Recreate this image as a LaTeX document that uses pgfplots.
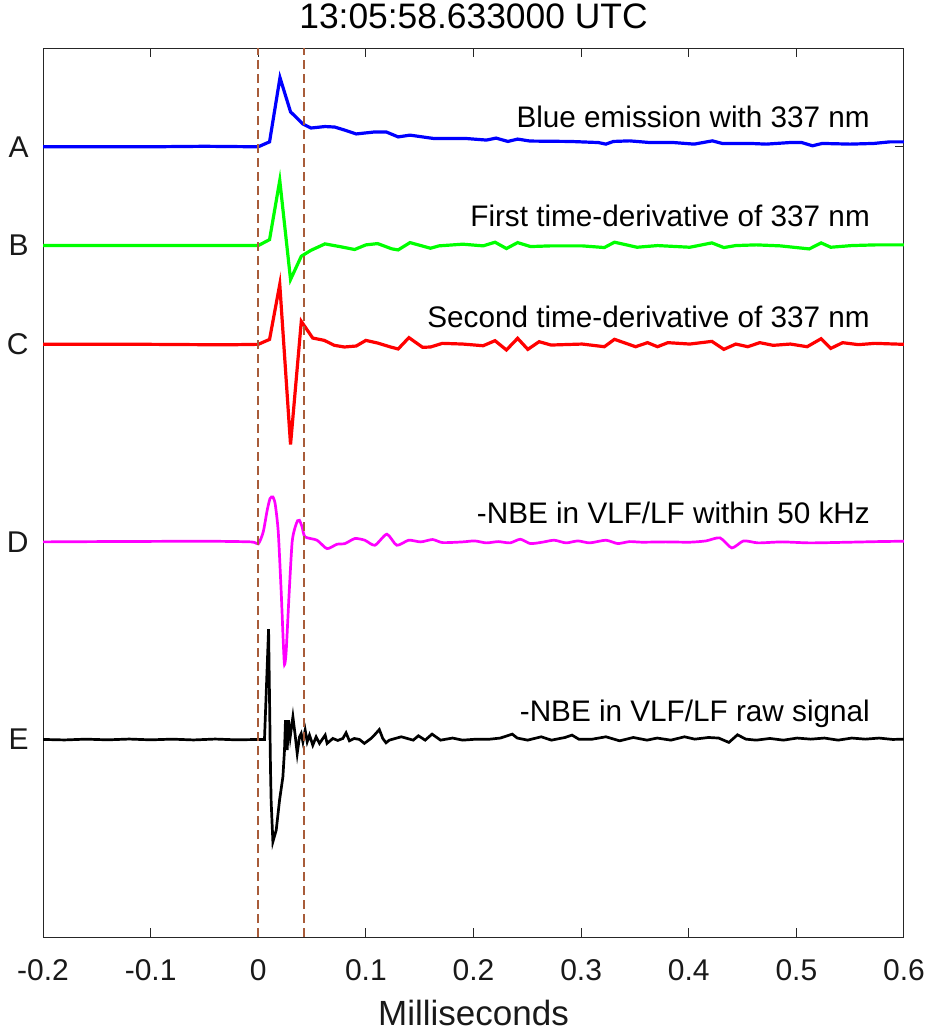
\documentclass[border=0pt]{standalone}
\usepackage{pgfplots}
\pgfplotsset{compat=1.18}
\usepackage{fontspec}
\setmainfont{Liberation Sans}
\definecolor{axgray}{RGB}{38,38,38}
\definecolor{brownd}{RGB}{168,92,58}
\definecolor{mag}{RGB}{255,0,255}
\definecolor{grn}{RGB}{0,255,0}
\definecolor{blu}{RGB}{0,0,255}
\definecolor{rd}{RGB}{255,0,0}
\begin{document}
\begin{tikzpicture}
\path[use as bounding box] (-21.5bp,-48bp) rectangle (443bp,468.5bp);
\begin{axis}[
  at={(0,0)}, anchor=south west,
  scale only axis, width=430.5bp, height=444.5bp,
  xmin=-0.2, xmax=0.6, ymin=-8, ymax=1,
  axis line style={axgray, line width=0.5bp},
  tick style={axgray, line width=0.5bp},
  tick align=inside, major tick length=4.5bp,
  xtick={-0.2,-0.1,0,0.1,0.2,0.3,0.4,0.5,0.6},
  xticklabels={-0.2,-0.1,0,0.1,0.2,0.3,0.4,0.5,0.6},
  ytick={-6,-4,-2,-1,0},
  yticklabels={E,D,C,B,A},
  xtick pos=both, ytick pos=both,
  xticklabel style={anchor=base, yshift=-21.5bp, font=\fontsize{15bp}{18bp}\selectfont, text=black!90},
  yticklabel style={anchor=east, inner sep=0pt, xshift=-7bp, font=\fontsize{15bp}{18bp}\selectfont, text=black!90},
  xlabel={Milliseconds},
  xlabel style={at={(axis description cs:0.5,0)}, anchor=base, yshift=-44bp, font=\fontsize{17.5bp}{20bp}\selectfont, text=black!90},
  title={13:05:58.633000 UTC},
  title style={at={(axis description cs:0.5,1)}, anchor=base, yshift=4bp, font=\fontsize{17.7bp}{20bp}\selectfont},
  clip=true,
]
% A: blue emission
\addplot[blu, line width=1.6bp] coordinates {
(-0.2,0) (-0.1,0) (-0.05,0.005) (0,0) (0.0105,0.05) (0.0202,0.70) (0.030,0.354) (0.0416,0.23) (0.049,0.19) (0.062,0.205) (0.071,0.20) (0.080,0.17) (0.091,0.13) (0.108,0.15) (0.119,0.15) (0.130,0.10) (0.141,0.118) (0.163,0.084) (0.193,0.084) (0.212,0.068) (0.221,0.088) (0.232,0.054) (0.241,0.078) (0.2525,0.058) (0.290,0.054) (0.316,0.043) (0.323,0.027) (0.330,0.054) (0.345,0.06) (0.364,0.043) (0.386,0.043) (0.405,0.027) (0.422,0.06) (0.431,0.034) (0.457,0.034) (0.472,0.027) (0.494,0.043) (0.505,0.043) (0.515,0.01) (0.524,0.034) (0.550,0.027) (0.572,0.034) (0.587,0.05) (0.6,0.05)
};
% B: first derivative
\addplot[grn, line width=1.6bp] coordinates {
(-0.2,-1) (-0.1,-1) (0,-1) (0.0105,-0.94) (0.020,-0.34) (0.030,-1.344) (0.040,-1.108) (0.049,-1.048) (0.062,-0.983) (0.077,-1.013) (0.0895,-1.04) (0.100,-0.993) (0.111,-0.98) (0.124,-1.033) (0.130,-1.044) (0.141,-0.97) (0.160,-1.027) (0.168,-1.003) (0.190,-0.986) (0.209,-1.003) (0.220,-0.966) (0.2306,-1.03) (0.241,-0.97) (0.253,-1.01) (0.272,-1.003) (0.301,-1.003) (0.3216,-1.02) (0.331,-0.966) (0.352,-1.017) (0.371,-1.0) (0.401,-1.017) (0.4215,-0.973) (0.4326,-1.02) (0.4437,-1.0) (0.4627,-0.993) (0.485,-1.003) (0.512,-1.034) (0.523,-0.973) (0.532,-1.017) (0.5515,-1.0) (0.574,-0.993) (0.6,-0.993)
};
% C: second derivative
\addplot[rd, line width=1.6bp] coordinates {
(-0.2,-2) (-0.1,-2) (-0.03,-2.005) (0,-2) (0.0105,-1.95) (0.020,-1.393) (0.030,-3.015) (0.040,-1.767) (0.0506,-1.936) (0.0614,-1.96) (0.0707,-2.01) (0.080,-2.027) (0.091,-2.017) (0.100,-1.96) (0.111,-1.987) (0.123,-2.027) (0.130,-2.047) (0.140,-1.932) (0.1527,-2.03) (0.160,-2.027) (0.1711,-1.99) (0.190,-1.997) (0.209,-2.014) (0.220,-1.963) (0.2306,-2.057) (0.241,-1.939) (0.2505,-2.051) (0.261,-1.973) (0.272,-2.007) (0.301,-1.997) (0.3216,-2.024) (0.331,-1.949) (0.3506,-2.024) (0.3617,-1.983) (0.371,-2.024) (0.3806,-1.983) (0.401,-1.997) (0.4215,-1.97) (0.4326,-2.051) (0.4437,-1.997) (0.4548,-2.024) (0.466,-1.983) (0.4785,-2.01) (0.4944,-1.997) (0.510,-2.024) (0.523,-1.943) (0.532,-2.041) (0.543,-1.983) (0.5577,-2.003) (0.573,-1.99) (0.6,-2.0)
};
% D: NBE filtered
\addplot[mag, line width=1.35bp, smooth, tension=0.4] coordinates {
(-0.2,-4.0) (-0.15,-3.997) (-0.1,-3.995) (-0.05,-3.993) (-0.0065,-4.0) (0,-4.02) (0.0046,-3.9) (0.0083,-3.68) (0.011,-3.56) (0.0136,-3.545) (0.0158,-3.62) (0.0186,-3.9) (0.0213,-4.5) (0.0232,-5.0) (0.0244,-5.242) (0.026,-5.1) (0.0288,-4.5) (0.0315,-4.0) (0.0343,-3.85) (0.0366,-3.785) (0.0383,-3.781) (0.0408,-3.85) (0.0435,-3.949) (0.0546,-3.983) (0.0639,-4.068) (0.0731,-4.024) (0.0806,-4.017) (0.0898,-3.966) (0.099,-3.983) (0.1084,-4.034) (0.1195,-3.922) (0.1287,-4.034) (0.1398,-3.983) (0.151,-4.0) (0.162,-3.976) (0.1713,-4.007) (0.19,-4.0) (0.201,-3.99) (0.212,-4.01) (0.223,-3.997) (0.234,-4.01) (0.2435,-3.973) (0.2528,-4.017) (0.264,-4.003) (0.275,-3.983) (0.286,-4.01) (0.297,-3.99) (0.308,-4.01) (0.323,-3.983) (0.334,-4.017) (0.345,-3.997) (0.3565,-4.003) (0.3787,-4.0) (0.401,-4.003) (0.416,-3.99) (0.429,-3.959) (0.440,-4.061) (0.451,-3.99) (0.4645,-4.01) (0.4867,-4.0) (0.5126,-4.01) (0.5497,-4.003) (0.5756,-3.997) (0.6,-3.993)
};
% E: NBE raw
\addplot[black, line width=1.35bp] coordinates {
(-0.2,-6.0) (-0.18,-6.005) (-0.16,-5.997) (-0.14,-6.004) (-0.12,-5.996) (-0.1,-6.004) (-0.08,-5.997) (-0.06,-6.005) (-0.04,-5.996) (-0.02,-6.004) (0,-6.0) (0.0058,-6.0) (0.0096,-4.884) (0.0114,-6.31) (0.012,-6.63) (0.0136,-7.036) (0.0167,-6.918) (0.0198,-6.614) (0.0229,-6.379) (0.0244,-6.108) (0.0253,-5.805) (0.0269,-6.108) (0.0281,-5.805) (0.0297,-5.974) (0.0322,-5.771) (0.0343,-5.956) (0.0362,-6.142) (0.0383,-5.974) (0.0399,-5.939) (0.0415,-6.024) (0.0436,-5.906) (0.0455,-6.024) (0.0476,-5.956) (0.0507,-6.058) (0.0538,-5.974) (0.0569,-6.04) (0.0622,-5.956) (0.064,-6.04) (0.0693,-5.99) (0.0739,-6.01) (0.0786,-5.99) (0.0816,-5.933) (0.0847,-6.014) (0.0893,-5.99) (0.094,-6.0) (0.0986,-6.04) (0.1048,-5.99) (0.1079,-5.956) (0.1125,-5.9) (0.1157,-5.99) (0.1187,-6.034) (0.1218,-6.007) (0.1329,-5.973) (0.144,-6.007) (0.1488,-5.963) (0.1551,-6.007) (0.1615,-5.946) (0.1694,-6.007) (0.1805,-5.986) (0.19,-6.007) (0.2027,-5.997) (0.2154,-5.997) (0.2249,-5.986) (0.236,-5.946) (0.2407,-5.986) (0.2503,-6.007) (0.263,-5.973) (0.2724,-6.007) (0.2851,-5.98) (0.2915,-5.956) (0.2978,-5.997) (0.3105,-5.997) (0.3231,-5.973) (0.3358,-6.014) (0.3485,-5.98) (0.3612,-6.007) (0.3707,-5.986) (0.3834,-6.007) (0.3961,-5.973) (0.4056,-5.997) (0.4183,-5.98) (0.4278,-5.986) (0.4373,-6.03) (0.4453,-5.953) (0.4531,-5.997) (0.4627,-6.007) (0.4754,-5.99) (0.488,-6.007) (0.5007,-5.986) (0.5134,-5.997) (0.5261,-5.986) (0.5388,-6.007) (0.5515,-5.986) (0.5641,-5.997) (0.5768,-5.986) (0.5895,-6.0) (0.6,-5.997)
};
% dashed markers
\addplot[brownd, line width=1.1bp, dash pattern=on 4.5bp off 2.5bp] coordinates {(0,-8) (0,1)};
\addplot[brownd, line width=1.1bp, dash pattern=on 4.5bp off 2.5bp] coordinates {(0.0425,-8) (0.0425,1)};
% labels
\node[anchor=base east, inner sep=0pt, font=\fontsize{14.85bp}{17bp}\selectfont] at (axis cs:0.5686,0.195) {Blue emission with 337 nm};
\node[anchor=base east, inner sep=0pt, font=\fontsize{14.85bp}{17bp}\selectfont] at (axis cs:0.5686,-0.805) {First time-derivative of 337 nm};
\node[anchor=base east, inner sep=0pt, font=\fontsize{14.85bp}{17bp}\selectfont] at (axis cs:0.5686,-1.825) {Second time-derivative of 337 nm};
\node[anchor=base east, inner sep=0pt, font=\fontsize{14.85bp}{17bp}\selectfont] at (axis cs:0.5686,-3.81) {-NBE in VLF/LF within 50 kHz};
\node[anchor=base east, inner sep=0pt, font=\fontsize{14.85bp}{17bp}\selectfont] at (axis cs:0.5686,-5.82) {-NBE in VLF/LF raw signal};
\end{axis}
\end{tikzpicture}
\end{document}
